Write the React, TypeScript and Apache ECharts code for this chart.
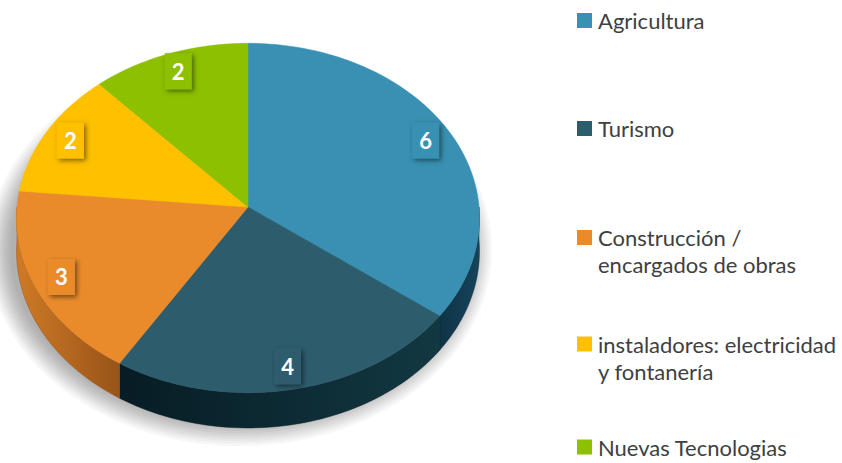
import React, { useEffect, useRef } from "react";
import * as echarts from "echarts";

// ---- data ----
const categories = [
  "Agricultura",
  "Turismo",
  "Construcción / encargados de obras",
  "instaladores: electricidad y fontanería",
  "Nuevas Tecnologias",
];
const legendLabels = [
  "Agricultura",
  "Turismo",
  "Construcción /\nencargados de obras",
  "instaladores: electricidad\ny fontanería",
  "Nuevas Tecnologias",
];
const values = [6, 4, 3, 2, 2];

// ---- styles ----
const topColors = ["#3990B2", "#2D5C6D", "#EA8B2B", "#FFC000", "#8DC000"];
const sideColorsA = ["#16445A", "#123842", "#CF7A25", "#C89600", "#6E9600"];
const sideColorsB = ["#0E3346", "#071C24", "#98541A", "#A07800", "#567500"];
const shadowGreys = ["#f7f7f7", "#efefef", "#e6e6e6", "#dddddd", "#d4d4d4", "#cbcbcb", "#c3c3c3", "#bcbcbc", "#b6b6b6", "#b1b1b1"];

// ---- layout ----
const PIE = { cx: 248, cy: 207, rx: 231, ry: 174, persp: 0.063, depth: 33, labelR: 0.88 };
const SHADOW = { cx: 240, cy: 250, rx: 252, ry: 196, step: 2.5 };
const LEGEND = { x: 577, size: 15, textX: 598, centers: [20.5, 128.5, 237.5, 344, 447], lineHeight: 27 };

export default function App() {
  const ref = useRef<HTMLDivElement>(null);

  useEffect(() => {
    document.body.style.margin = "0";
    const chart = echarts.init(ref.current as HTMLDivElement, null, { renderer: "svg" });

    const total = values.reduce((a, b) => a + b, 0);
    const starts: number[] = [];
    let acc = 0;
    values.forEach((v) => {
      starts.push(acc);
      acc += v;
    });

    const proj = (phi: number, r: number, dep: number) => {
      const X = r * Math.sin(phi);
      const Z = -r * Math.cos(phi);
      const w = 1 - PIE.persp * Z;
      return [PIE.cx + (PIE.rx * X) / w, PIE.cy + (PIE.ry * Z + dep) / w];
    };
    const arc = (a: number, b: number, r: number, dep: number) => {
      const n = Math.max(2, Math.ceil((b - a) / (Math.PI / 120)));
      const pts: number[][] = [];
      for (let k = 0; k <= n; k++) pts.push(proj(a + ((b - a) * k) / n, r, dep));
      return pts;
    };

    const renderItem = (params: any, api: any) => {
      const i = params.dataIndex;
      const v = api.value(0);
      const a = (starts[i] / total) * Math.PI * 2;
      const b = ((starts[i] + v) / total) * Math.PI * 2;
      const children: any[] = [];

      const sa = Math.max(a, Math.PI / 2);
      const sb = Math.min(b, (Math.PI * 3) / 2);
      if (sb > sa) {
        const pts = arc(sa, sb, 1, 0).concat(arc(sa, sb, 1, PIE.depth).reverse());
        children.push({
          type: "polygon",
          z2: 1,
          shape: { points: pts },
          style: {
            fill: new echarts.graphic.LinearGradient(0, 0, 1, 0, [
              { offset: 0, color: i === 2 ? sideColorsA[i] : sideColorsB[i] },
              { offset: 1, color: i === 2 ? sideColorsB[i] : sideColorsA[i] },
            ]),
            stroke: sideColorsB[i],
            lineWidth: 0.5,
          },
        });
      }

      children.push({
        type: "polygon",
        z2: 2,
        shape: { points: [proj(0, 0, 0)].concat(arc(a, b, 1, 0)) },
        style: { fill: topColors[i], stroke: topColors[i], lineWidth: 0.5 },
      });

      const mid = (a + b) / 2;
      const [lx, ly] = proj(mid, PIE.labelR, 0);
      children.push({
        type: "rect",
        z2: 5,
        shape: { x: lx - 13.5, y: ly - 18, width: 27, height: 36 },
        style: {
          fill: topColors[i],
          shadowBlur: 5,
          shadowColor: "rgba(0,0,0,0.5)",
          shadowOffsetX: 2,
          shadowOffsetY: 2,
        },
      });
      children.push({
        type: "text",
        z2: 6,
        x: lx,
        y: ly,
        style: {
          text: String(v),
          fill: "#ffffff",
          font: "bold 22px Lato, 'Open Sans', sans-serif",
          align: "center",
          verticalAlign: "middle",
        },
      });
      return { type: "group", children };
    };

    const graphic: any[] = [];
    shadowGreys.forEach((g, k) => {
      graphic.push({
        type: "ellipse",
        z: -1,
        silent: true,
        shape: {
          cx: SHADOW.cx,
          cy: SHADOW.cy,
          rx: SHADOW.rx - k * SHADOW.step,
          ry: SHADOW.ry - k * SHADOW.step,
        },
        style: { fill: g },
      });
    });
    categories.forEach((c, i) => {
      const cy = LEGEND.centers[i];
      graphic.push({
        type: "rect",
        shape: { x: LEGEND.x, y: cy - LEGEND.size / 2, width: LEGEND.size, height: LEGEND.size },
        style: { fill: topColors[i] },
      });
      graphic.push({
        type: "text",
        x: LEGEND.textX,
        y: cy - LEGEND.lineHeight / 2,
        style: {
          text: legendLabels[i],
          fill: "#404040",
          font: "22px Lato, 'Open Sans', sans-serif",
          lineHeight: LEGEND.lineHeight,
          verticalAlign: "top",
        },
      });
    });

    chart.setOption({
      animation: false,
      series: [
        {
          type: "custom",
          coordinateSystem: "none",
          renderItem,
          data: values.map((v, i) => ({ value: v, name: categories[i] })),
        },
      ],
      graphic,
    });

    return () => chart.dispose();
  }, []);

  return <div ref={ref} style={{ width: 842, height: 463, background: "#ffffff" }} />;
}
